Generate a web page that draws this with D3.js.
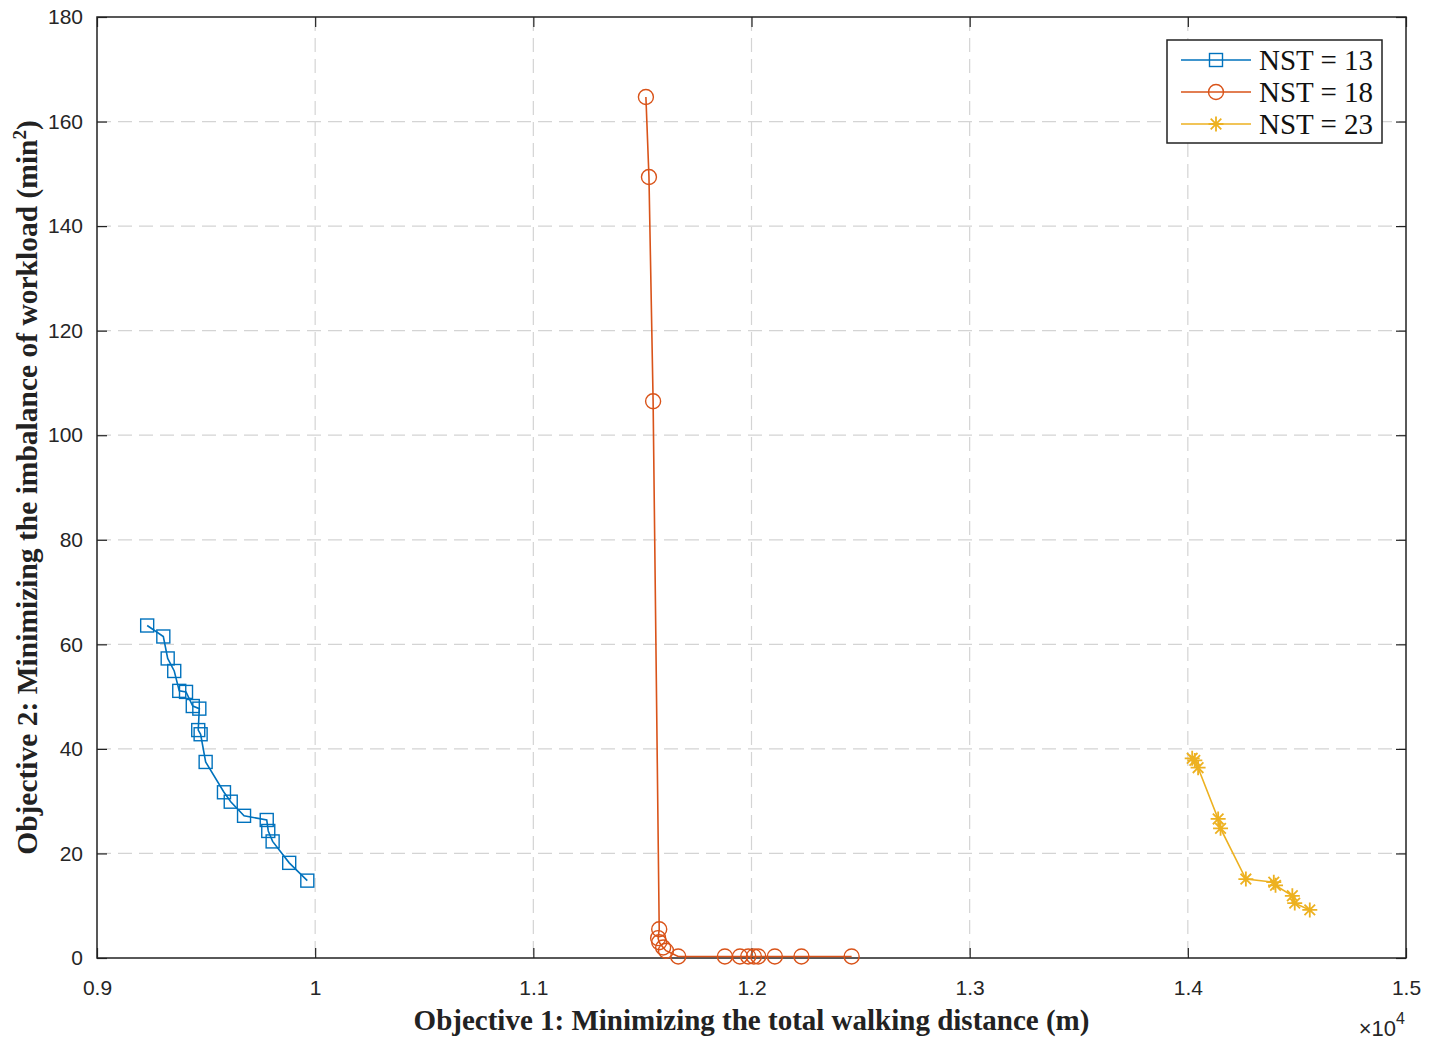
<!DOCTYPE html>
<html>
<head>
<meta charset="utf-8">
<script src="https://cdn.jsdelivr.net/npm/d3@7"></script>
<style>
  body { margin: 0; background: #fff; }
  .grid line { stroke: #d4d4d4; stroke-dasharray: 14,7; stroke-width: 1.2; }
  .tick text { font-family: "Liberation Sans", Arial, sans-serif; font-size: 21px; fill: #262626; }
</style>
</head>
<body>
<svg id="chart" width="1439" height="1040"></svg>
<script>
// NST = 13 (blue squares)
const nst13x = [9230, 9304, 9324, 9354, 9377, 9408, 9439, 9469, 9464, 9475, 9498, 9582, 9613, 9674, 9778, 9785, 9805, 9881, 9964];
const nst13y = [63.6, 61.5, 57.3, 54.9, 51.1, 50.9, 48.2, 47.7, 43.6, 42.8, 37.5, 31.7, 29.9, 27.2, 26.4, 24.3, 22.3, 18.2, 14.8];
// NST = 18 (orange circles)
const nst18x = [11516, 11530, 11549, 11577, 11572, 11577, 11595, 11608, 11664, 11878, 11947, 11985, 12011, 12031, 12107, 12229, 12459];
const nst18y = [164.7, 149.4, 106.5, 5.5, 3.8, 3.0, 2.0, 1.4, 0.3, 0.3, 0.3, 0.3, 0.3, 0.3, 0.3, 0.3, 0.3];
// NST = 23 (yellow stars)
const nst23x = [14020, 14032, 14047, 14139, 14150, 14266, 14394, 14402, 14479, 14490, 14559];
const nst23y = [38.2, 37.8, 36.4, 26.6, 24.8, 15.1, 14.5, 13.9, 11.9, 10.5, 9.2];

const xTicks = [9000, 10000, 11000, 12000, 13000, 14000, 15000];
const xTickLabels = ["0.9", "1", "1.1", "1.2", "1.3", "1.4", "1.5"];
const yTicks = [0, 20, 40, 60, 80, 100, 120, 140, 160, 180];

const seriesNames = ["NST = 13", "NST = 18", "NST = 23"];
const seriesColors = ["#0072BD", "#D95319", "#EDB120"];
const seriesMarkers = ["square", "circle", "star"];

const svg = d3.select("#chart"),
    margin = {top: 17, right: 33, bottom: 81, left: 97},
    width = +svg.attr("width"),
    height = +svg.attr("height");

const x = d3.scaleLinear().domain([9000, 15000]).range([margin.left, width - margin.right]);
const y = d3.scaleLinear().domain([0, 180]).range([height - margin.bottom - 1, margin.top]);

const series = [nst13x, nst18x, nst23x].map((xs, i) => {
    const ys = [nst13y, nst18y, nst23y][i];
    return {
        name: seriesNames[i],
        color: seriesColors[i],
        marker: seriesMarkers[i],
        values: xs.map((v, j) => ({x: v, y: ys[j]}))
    };
});

// grid
svg.append("g").attr("class", "grid")
    .selectAll("line.gx").data(xTicks.slice(1, -1)).enter().append("line")
    .attr("x1", d => x(d)).attr("x2", d => x(d))
    .attr("y1", y(180)).attr("y2", y(0));
svg.append("g").attr("class", "grid")
    .selectAll("line.gy").data(yTicks.slice(1, -1)).enter().append("line")
    .attr("x1", x(9000)).attr("x2", x(15000))
    .attr("y1", d => y(d)).attr("y2", d => y(d));

// axes
const xAxis = d3.axisBottom(x).tickValues(xTicks)
    .tickFormat((d, i) => xTickLabels[i]).tickSize(-10).tickPadding(22);
const yAxis = d3.axisLeft(y).tickValues(yTicks).tickSize(-10).tickPadding(14);

svg.append("g")
    .attr("transform", "translate(0," + y(0) + ")")
    .call(xAxis)
    .call(g => g.select(".domain").remove());
svg.append("g")
    .attr("transform", "translate(" + x(9000) + ",0)")
    .call(yAxis)
    .call(g => g.select(".domain").remove());
// ticks on top and right too
svg.append("g")
    .attr("transform", "translate(0," + y(180) + ")")
    .call(d3.axisTop(x).tickValues(xTicks).tickSize(-10).tickFormat(""))
    .call(g => g.select(".domain").remove());
svg.append("g")
    .attr("transform", "translate(" + x(15000) + ",0)")
    .call(d3.axisRight(y).tickValues(yTicks).tickSize(-10).tickFormat(""))
    .call(g => g.select(".domain").remove());
svg.selectAll(".tick line").attr("stroke", "#222").attr("stroke-width", 1.2);

// box
svg.append("rect")
    .attr("x", x(9000)).attr("y", y(180))
    .attr("width", x(15000) - x(9000)).attr("height", y(0) - y(180))
    .attr("fill", "none").attr("stroke", "#222").attr("stroke-width", 1.5);

// exponent
const expo = svg.append("text")
    .attr("x", 1405).attr("y", 1036)
    .attr("text-anchor", "end")
    .attr("font-family", "Liberation Sans, Arial, sans-serif")
    .attr("font-size", 22).attr("fill", "#262626");
expo.append("tspan").text("\u00d710");
expo.append("tspan").attr("dy", -12).attr("font-size", 16).text("4");

// axis titles
svg.append("text")
    .attr("x", x(12000)).attr("y", 1030)
    .attr("text-anchor", "middle")
    .attr("font-family", "Liberation Serif, Times New Roman, serif")
    .attr("font-weight", "bold").attr("font-size", 29).attr("fill", "#222")
    .text("Objective 1: Minimizing the total walking distance (m)");

const yt = svg.append("text")
    .attr("transform", "translate(37," + y(90) + ") rotate(-90)")
    .attr("text-anchor", "middle")
    .attr("font-family", "Liberation Serif, Times New Roman, serif")
    .attr("font-weight", "bold").attr("font-size", 29.5).attr("fill", "#222");
yt.append("tspan").text("Objective 2: Minimizing the imbalance of workload (min");
yt.append("tspan").attr("dy", -11).attr("font-size", 19).text("2");
yt.append("tspan").attr("dy", 11).text(")");

// markers
function drawMarker(g, type, color) {
    if (type === "square") {
        g.append("rect").attr("x", -6.5).attr("y", -6.5).attr("width", 13).attr("height", 13)
            .attr("fill", "none").attr("stroke", color).attr("stroke-width", 1.4);
    } else if (type === "circle") {
        g.append("circle").attr("r", 7.5)
            .attr("fill", "none").attr("stroke", color).attr("stroke-width", 1.4);
    } else {
        const r = 7.5, q = r * 0.707;
        g.append("path")
            .attr("d", `M${-r},0L${r},0M0,${-r}L0,${r}M${-q},${-q}L${q},${q}M${-q},${q}L${q},${-q}`)
            .attr("stroke", color).attr("stroke-width", 1.8).attr("fill", "none");
    }
}

const line = d3.line().x(d => x(d.x)).y(d => y(d.y));

series.forEach(s => {
    const g = svg.append("g");
    g.append("path").datum(s.values)
        .attr("d", line)
        .attr("fill", "none").attr("stroke", s.color).attr("stroke-width", 1.6);
    g.selectAll("g.pt").data(s.values).enter().append("g")
        .attr("class", "pt")
        .attr("transform", d => "translate(" + x(d.x) + "," + y(d.y) + ")")
        .each(function () { drawMarker(d3.select(this), s.marker, s.color); });
});

// legend
const legend = svg.append("g").attr("transform", "translate(1167,40)");
legend.append("rect")
    .attr("width", 215).attr("height", 103)
    .attr("fill", "#fff").attr("stroke", "#222").attr("stroke-width", 1.5);
series.forEach((s, i) => {
    const row = legend.append("g").attr("transform", "translate(0," + (20 + i * 32) + ")");
    row.append("line").attr("x1", 14).attr("x2", 84)
        .attr("stroke", s.color).attr("stroke-width", 1.6);
    drawMarker(row.append("g").attr("transform", "translate(49,0)"), s.marker, s.color);
    row.append("text")
        .attr("x", 92).attr("y", 10)
        .attr("font-family", "Liberation Serif, Times New Roman, serif")
        .attr("font-size", 29).attr("fill", "#111")
        .text(s.name);
});
</script>
</body>
</html>
